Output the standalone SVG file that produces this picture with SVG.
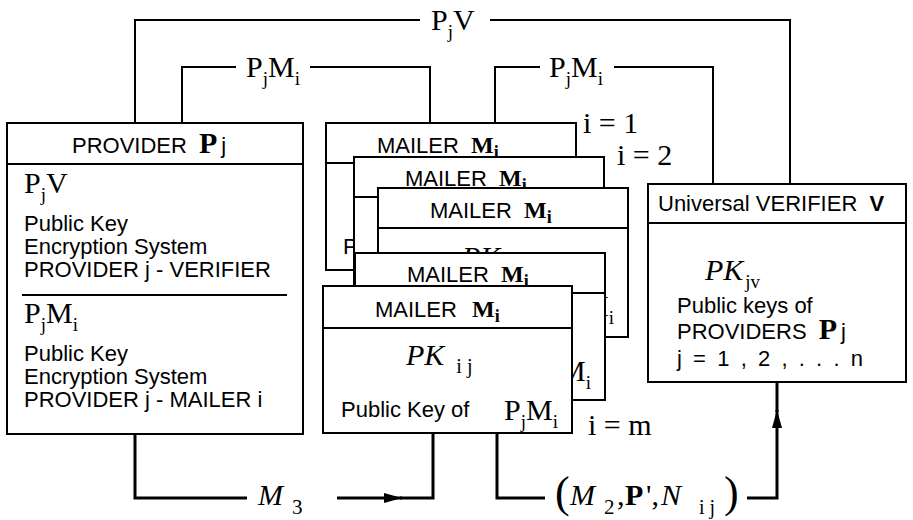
<svg xmlns="http://www.w3.org/2000/svg" width="913" height="520" viewBox="0 0 913 520">
<style>
.box{fill:#fff;stroke:#000;stroke-width:2}
.sep{fill:none;stroke:#000;stroke-width:2}
.cn{fill:none;stroke:#000;stroke-width:2}
.cnb{fill:none;stroke:#000;stroke-width:3}
.s{font-family:"Liberation Sans",Arial,sans-serif;font-size:22px;fill:#000}
.r{font-family:"Liberation Serif","Times New Roman",serif;font-size:30px;fill:#000}
.it{font-style:italic}
.b{font-weight:bold}
.sub{font-size:19px}
.hm{font-family:"Liberation Serif","Times New Roman",serif;font-weight:bold;font-size:24px}
.hi{font-family:"Liberation Serif","Times New Roman",serif;font-weight:bold;font-size:18px}
</style>
<defs>
<marker id="ah" markerUnits="userSpaceOnUse" markerWidth="18" markerHeight="12" refX="18" refY="6" orient="auto">
<path d="M0,1 L18,6 L0,11 z" fill="#000"/>
</marker>
</defs>

<g id="connectors">
<path class="cn" d="M135,123 V20 H420"/>
<path class="cn" d="M490,20 H790 V184"/>
<text class="r" x="431" y="30">P<tspan class="sub" dy="8">j</tspan><tspan dy="-8">V</tspan></text>
<path class="cn" d="M182,123 V67 H236"/>
<path class="cn" d="M310,67 H430 V123"/>
<text class="r" x="246" y="77">P<tspan class="sub" dy="8">j</tspan><tspan dy="-8">M</tspan><tspan class="sub" dy="8">i</tspan></text>
<path class="cn" d="M495,123 V67 H540"/>
<path class="cn" d="M614,67 H713 V184"/>
<text class="r" x="549" y="77">P<tspan class="sub" dy="8">j</tspan><tspan dy="-8">M</tspan><tspan class="sub" dy="8">i</tspan></text>
<path class="cnb" d="M135,434 V498 H247"/>
<path class="cnb" d="M337,498 H402" marker-end="url(#ah)"/>
<path class="cnb" d="M400,498 H433 V433"/>
<text class="r it" x="258" y="505" font-size="30">M<tspan font-style="normal" font-size="21" dx="9" dy="9">3</tspan></text>
<path class="cnb" d="M497,433 V498 H545"/>
<path class="cnb" d="M747,498 H777 V410" marker-end="url(#ah)"/>
<path class="cnb" d="M777,412 V382"/>
<text class="r"><tspan x="555" y="507" font-size="44">(</tspan><tspan x="570" y="505" class="it" font-size="30">M</tspan><tspan x="604" y="514" font-size="21">2</tspan><tspan x="617" y="505" font-size="30">,</tspan><tspan x="625" y="505" class="b" font-size="30">P</tspan><tspan x="646" y="505" font-size="30">',</tspan><tspan x="661" y="505" class="it" font-size="30">N</tspan><tspan x="699" y="514" font-size="20">i j</tspan><tspan x="724" y="507" font-size="44">)</tspan></text>
</g>

<g id="provider">
<rect class="box" x="7" y="123" width="296" height="311"/>
<line class="sep" x1="7" y1="164" x2="303" y2="164"/>
<text class="s" x="72" y="153" font-size="23">PROVIDER <tspan class="r b" font-size="28" dx="6">P</tspan><tspan dx="4">j</tspan></text>
<text class="r" x="24" y="193">P<tspan class="sub" dy="8">j</tspan><tspan dy="-8">V</tspan></text>
<text class="s" x="24" y="231" font-size="23">Public Key</text>
<text class="s" x="24" y="254" font-size="23">Encryption System</text>
<text class="s" x="24" y="277" font-size="23">PROVIDER j - VERIFIER</text>
<line class="sep" x1="22" y1="295" x2="287" y2="295"/>
<text class="r" x="24" y="323">P<tspan class="sub" dy="8">j</tspan><tspan dy="-8">M</tspan><tspan class="sub" dy="8">i</tspan></text>
<text class="s" x="24" y="361" font-size="23">Public Key</text>
<text class="s" x="24" y="384" font-size="23">Encryption System</text>
<text class="s" x="24" y="407" font-size="23">PROVIDER j - MAILER i</text>
</g>

<g id="mailer-1">
<rect class="box" x="326" y="123" width="250" height="147"/>
<line class="sep" x1="326" y1="163" x2="576" y2="163"/>
<text class="s" x="377" y="153" font-size="23">MAILER <tspan class="hm" dx="6">M</tspan><tspan class="hi" dy="5">i</tspan></text>
<text class="s" x="343" y="254">Public Key of</text>
<text class="r" x="583" y="133" font-size="21">i = 1</text>
</g>

<g id="mailer-2">
<rect class="box" x="354" y="157" width="250" height="148"/>
<line class="sep" x1="354" y1="197" x2="604" y2="197"/>
<text class="s" x="405" y="186" font-size="23">MAILER <tspan class="hm" dx="6">M</tspan><tspan class="hi" dy="5">i</tspan></text>
<text class="r" x="617" y="165" font-size="21">i = 2</text>
</g>

<g id="mailer-3">
<rect class="box" x="378" y="188" width="250" height="149"/>
<line class="sep" x1="378" y1="228" x2="628" y2="228"/>
<text class="s" x="430" y="218" font-size="23">MAILER <tspan class="hm" dx="6">M</tspan><tspan class="hi" dy="5">i</tspan></text>
<text class="r it" x="462" y="267" font-size="28">PK</text>
<text class="r" x="560" y="316">P<tspan class="sub" dy="8">j</tspan><tspan dy="-8">M</tspan><tspan class="sub" dy="8">i</tspan></text>
</g>

<g id="mailer-4">
<rect class="box" x="355" y="253" width="250" height="147"/>
<line class="sep" x1="355" y1="293" x2="605" y2="293"/>
<text class="s" x="407" y="282" font-size="23">MAILER <tspan class="hm" dx="6">M</tspan><tspan class="hi" dy="5">i</tspan></text>
<text class="r" x="537" y="381">P<tspan class="sub" dy="8">j</tspan><tspan dy="-8">M</tspan><tspan class="sub" dy="8">i</tspan></text>
</g>

<g id="mailer-m">
<rect class="box" x="323" y="286" width="249" height="147"/>
<line class="sep" x1="323" y1="328" x2="572" y2="328"/>
<text class="s" x="375" y="317" font-size="23">MAILER <tspan class="hm" dx="9">M</tspan><tspan class="hi" dy="5">i</tspan></text>
<text class="r it" x="406" y="365" font-size="30">PK<tspan font-style="normal" font-size="20" dx="12" dy="8">i j</tspan></text>
<text class="s" x="341" y="417">Public Key of</text>
<text class="r" x="504" y="420">P<tspan class="sub" dy="8">j</tspan><tspan dy="-8">M</tspan><tspan class="sub" dy="8">i</tspan></text>
<text class="r" x="588" y="435" font-size="21">i = m</text>
</g>

<g id="verifier">
<rect class="box" x="648" y="184" width="258" height="198"/>
<line class="sep" x1="648" y1="223" x2="906" y2="223"/>
<text class="s" x="658" y="211" font-size="21">Universal VERIFIER <tspan class="b" dx="6">V</tspan></text>
<text class="r it" x="705" y="280" font-size="30">PK<tspan font-style="normal" font-size="19" dx="2" dy="8">jv</tspan></text>
<text class="s" x="677" y="313">Public keys of</text>
<text class="s" x="677" y="339">PROVIDERS <tspan class="r b" font-size="28" dx="6">P</tspan><tspan dx="4">j</tspan></text>
<text class="s" x="677" y="366" font-size="19" textLength="186" lengthAdjust="spacing">j = 1 , 2 , . . . n</text>
</g>
</svg>
